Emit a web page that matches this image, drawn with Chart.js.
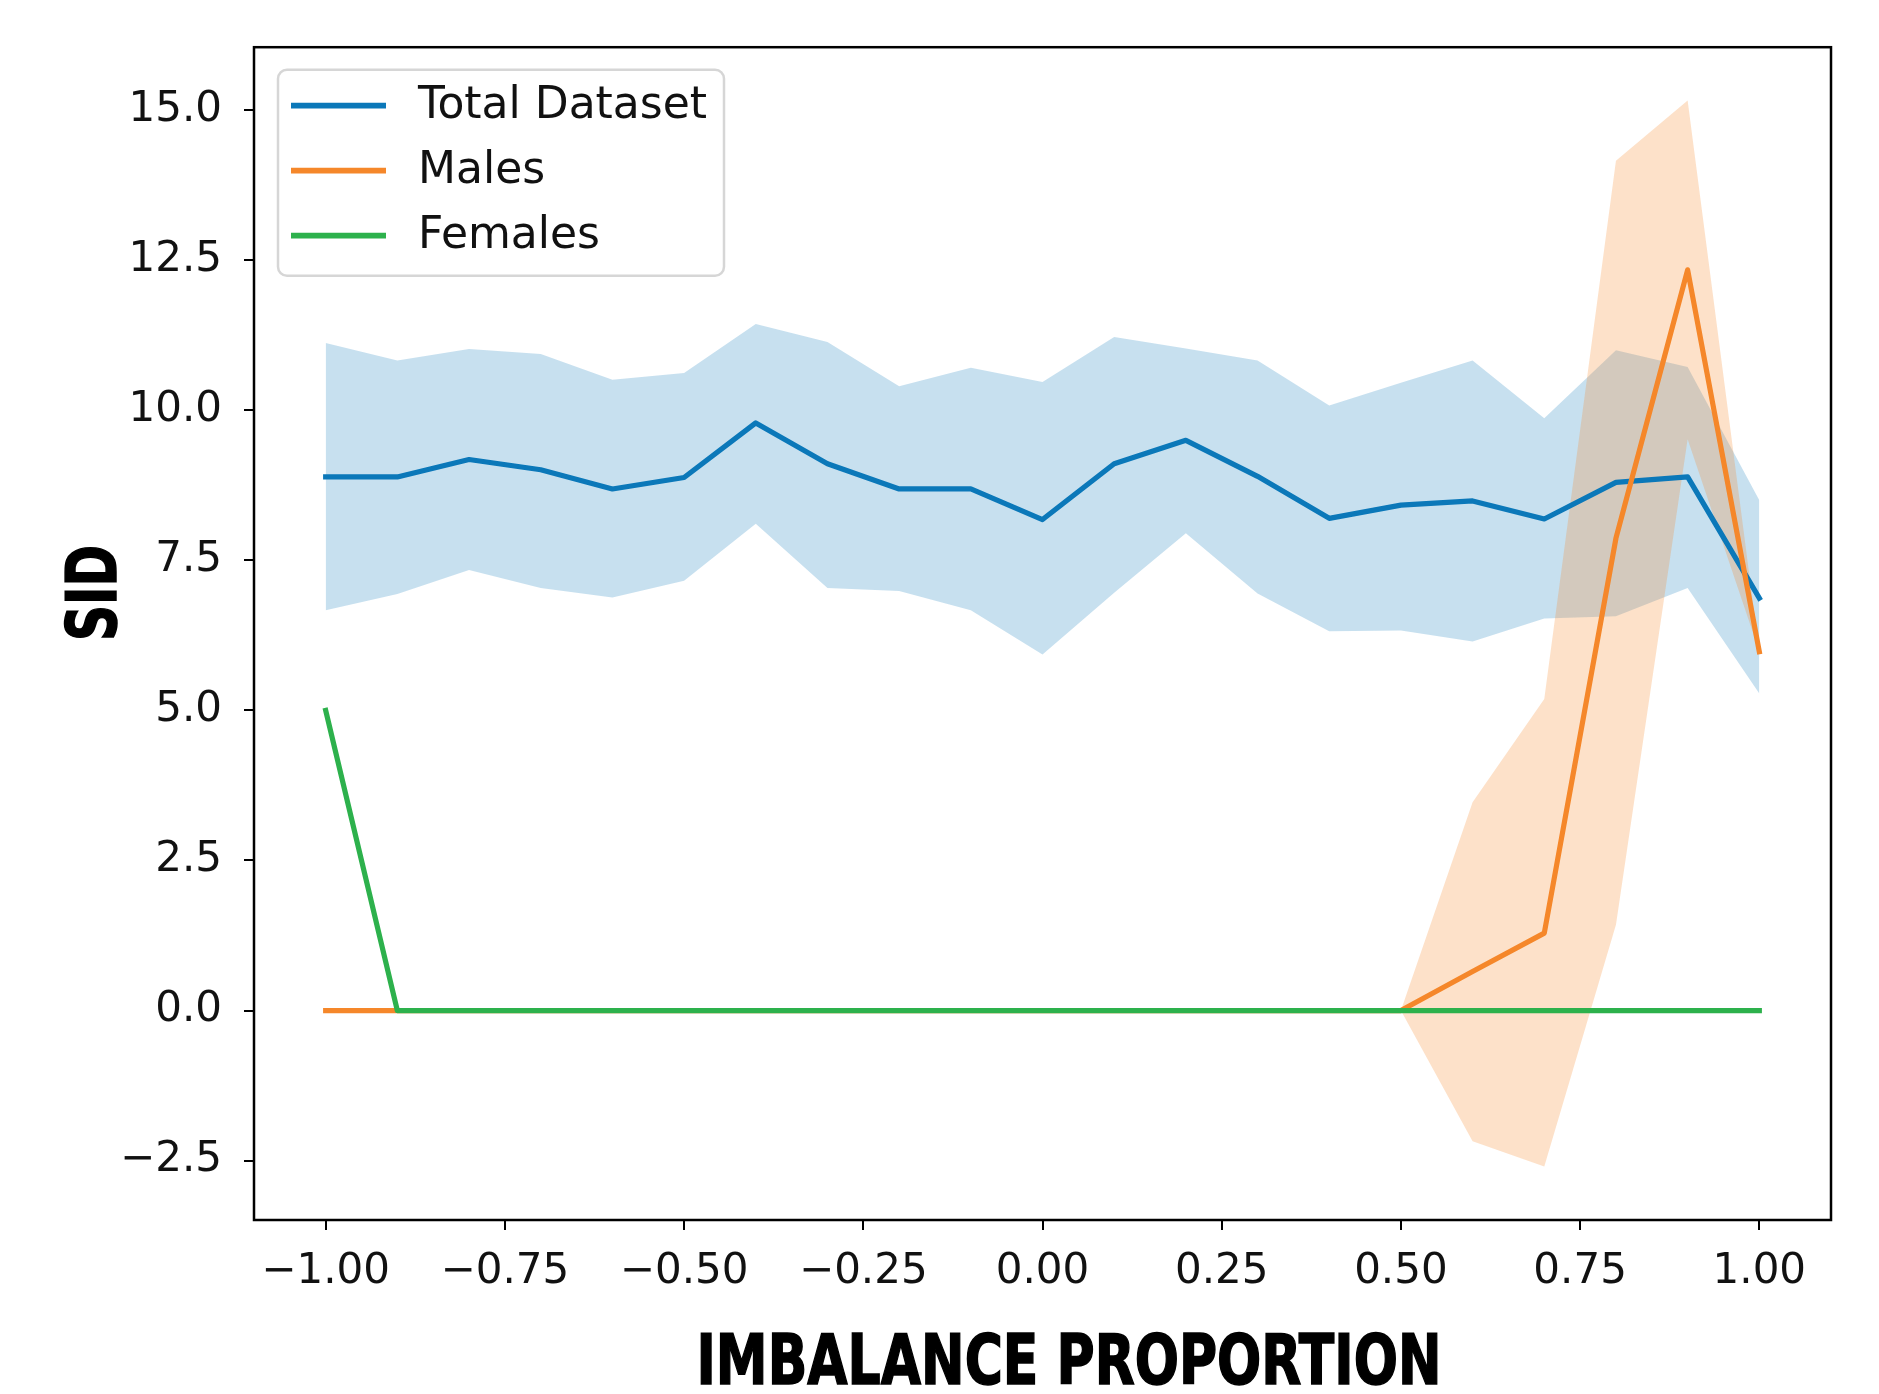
<!DOCTYPE html>
<html>
<head>
<meta charset="utf-8">
<script src="https://cdn.jsdelivr.net/npm/chart.js@4.4.0/dist/chart.umd.min.js"></script>
<style>
  html, body { margin: 0; padding: 0; background: #ffffff; }
  canvas { display: block; }
</style>
</head>
<body>
<canvas id="c" width="1879" height="1394" style="width:1879px;height:1394px"></canvas>
<script>
// ---------------- data ----------------
const xValues = [-1.0, -0.9, -0.8, -0.7, -0.6, -0.5, -0.4, -0.3, -0.2, -0.1, 0.0,
                 0.1, 0.2, 0.3, 0.4, 0.5, 0.6, 0.7, 0.8, 0.9, 1.0];

const totalMean  = [8.89, 8.89, 9.18, 9.01, 8.69, 8.88, 9.79, 9.11, 8.69, 8.69, 8.18,
                    9.11, 9.50, 8.90, 8.20, 8.42, 8.49, 8.19, 8.80, 8.89, 6.87];
const totalUpper = [11.12, 10.83, 11.02, 10.94, 10.51, 10.62, 11.44, 11.14, 10.40, 10.71, 10.47,
                    11.22, 11.03, 10.83, 10.08, 10.46, 10.83, 9.87, 11.00, 10.72, 8.50];
const totalLower = [6.67, 6.94, 7.34, 7.04, 6.88, 7.16, 8.11, 7.04, 6.99, 6.67, 5.93,
                    6.96, 7.95, 6.95, 6.32, 6.33, 6.15, 6.53, 6.57, 7.04, 5.28];

const malesMean  = [0, 0, 0, 0, 0, 0, 0, 0, 0, 0, 0,
                    0, 0, 0, 0, 0, 0.65, 1.29, 7.87, 12.34, 5.98];
const malesUpper = [0, 0, 0, 0, 0, 0, 0, 0, 0, 0, 0,
                    0, 0, 0, 0, 0, 3.47, 5.19, 14.16, 15.16, 5.98];
const malesLower = [0, 0, 0, 0, 0, 0, 0, 0, 0, 0, 0,
                    0, 0, 0, 0, 0, -2.18, -2.60, 1.43, 9.52, 5.98];

const femalesMean = [5.0, 0, 0, 0, 0, 0, 0, 0, 0, 0, 0,
                     0, 0, 0, 0, 0, 0, 0, 0, 0, 0];

const seriesNames = ['Total Dataset', 'Males', 'Females'];

const xTickValues = [-1.0, -0.75, -0.5, -0.25, 0.0, 0.25, 0.5, 0.75, 1.0];
const xTickLabels = ['\u22121.00', '\u22120.75', '\u22120.50', '\u22120.25', '0.00', '0.25', '0.50', '0.75', '1.00'];
const yTickValues = [-2.5, 0.0, 2.5, 5.0, 7.5, 10.0, 12.5, 15.0];
const yTickLabels = ['\u22122.5', '0.0', '2.5', '5.0', '7.5', '10.0', '12.5', '15.0'];

const xTitle = 'IMBALANCE PROPORTION';
const yTitle = 'SID';

// ---------------- styles ----------------
const BLUE = '#0b78b9';
const ORANGE = '#f5872a';
const GREEN = '#2db14c';
const BLUE_BAND = 'rgba(100,170,210,0.36)';
const ORANGE_BAND = 'rgba(247,134,38,0.25)';
const TICK_FONT = { family: '"DejaVu Sans", sans-serif', size: 42 };

const pts = (arr) => arr.map((v, i) => ({ x: xValues[i], y: v }));

function lineDs(label, data, color, order) {
  return {
    label, data: pts(data), borderColor: color, backgroundColor: color,
    borderWidth: 5.2, pointRadius: 0, pointHoverRadius: 0, tension: 0,
    fill: false, order, borderJoinStyle: 'round', borderCapStyle: 'square'
  };
}
function bandDs(label, data, fillColor, fillTarget, order) {
  return {
    label, data: pts(data), borderWidth: 0, borderColor: 'rgba(0,0,0,0)',
    backgroundColor: fillColor, pointRadius: 0, pointHoverRadius: 0, tension: 0,
    fill: fillTarget, order, isBand: true
  };
}

// ---------------- plugins ----------------
const framePlugin = {
  id: 'frame',
  afterDatasetsDraw(chart) {
    const { ctx, chartArea: a } = chart;
    ctx.save();
    ctx.strokeStyle = '#000';
    ctx.lineWidth = 2.5;
    ctx.strokeRect(a.left, a.top, a.right - a.left, a.bottom - a.top);
    ctx.restore();
  }
};

const legendPlugin = {
  id: 'mplLegend',
  afterDraw(chart) {
    const { ctx, chartArea: a } = chart;
    const bx = a.left + 24, by = a.top + 22.5, bw = 446, bh = 206, r = 9;
    ctx.save();
    ctx.beginPath();
    ctx.moveTo(bx + r, by);
    ctx.arcTo(bx + bw, by, bx + bw, by + bh, r);
    ctx.arcTo(bx + bw, by + bh, bx, by + bh, r);
    ctx.arcTo(bx, by + bh, bx, by, r);
    ctx.arcTo(bx, by, bx + bw, by, r);
    ctx.closePath();
    ctx.fillStyle = 'rgba(255,255,255,0.85)';
    ctx.fill();
    ctx.strokeStyle = '#d6d6d6';
    ctx.lineWidth = 2.5;
    ctx.stroke();

    const lines = chart.data.datasets.filter(d => !d.isBand);
    lines.forEach((d, k) => {
      const cy = a.top + 58.5 + 65 * k;
      ctx.beginPath();
      ctx.strokeStyle = d.borderColor;
      ctx.lineWidth = 5.8;
      ctx.moveTo(a.left + 37, cy);
      ctx.lineTo(a.left + 132, cy);
      ctx.stroke();
      ctx.fillStyle = '#111';
      ctx.font = '44px "DejaVu Sans", sans-serif';
      ctx.textAlign = 'left';
      ctx.textBaseline = 'middle';
      ctx.fillText(d.label, a.left + 164, cy + 1);
    });
    ctx.restore();
  }
};

function drawFitted(ctx, text, x, y, targetW) {
  ctx.font = 'bold 70px "Liberation Sans Narrow", "DejaVu Sans Condensed", "Liberation Sans", sans-serif';
  const w = ctx.measureText(text).width;
  const s = targetW / w;
  ctx.save();
  ctx.translate(x, y);
  ctx.scale(s, 1);
  ctx.textAlign = 'center';
  ctx.textBaseline = 'alphabetic';
  ctx.fillStyle = '#000';
  ctx.strokeStyle = '#000';
  ctx.lineWidth = 1.5;
  ctx.fillText(text, 0, 0);
  ctx.strokeText(text, 0, 0);
  ctx.restore();
}

const titlePlugin = {
  id: 'axisTitles',
  afterDraw(chart) {
    const { ctx } = chart;
    ctx.save();
    drawFitted(ctx, xTitle, 1069, 1384, 745);
    ctx.translate(116, 593);
    ctx.rotate(-Math.PI / 2);
    drawFitted(ctx, yTitle, 0, 0, 96);
    ctx.restore();
  }
};

// ---------------- chart ----------------
new Chart(document.getElementById('c'), {
  type: 'line',
  data: {
    datasets: [
      lineDs(seriesNames[0], totalMean, BLUE, 2),
      lineDs(seriesNames[1], malesMean, ORANGE, 1),
      lineDs(seriesNames[2], femalesMean, GREEN, 0),
      bandDs('Total band', totalUpper, BLUE_BAND, '+1', 4),
      bandDs('Total band low', totalLower, 'rgba(0,0,0,0)', false, 4),
      bandDs('Males band', malesUpper, ORANGE_BAND, '+1', 3),
      bandDs('Males band low', malesLower, 'rgba(0,0,0,0)', false, 3)
    ]
  },
  options: {
    responsive: false,
    devicePixelRatio: 1,
    animation: false,
    layout: { padding: { left: 0, right: 48, top: 45.5, bottom: 0 }, autoPadding: false },
    plugins: { legend: { display: false }, tooltip: { enabled: false }, title: { display: false } },
    scales: {
      x: {
        type: 'linear', min: -1.1, max: 1.1,
        afterBuildTicks: (s) => { s.ticks = xTickValues.map(v => ({ value: v })); },
        afterFit: (s) => { s.height = 174; },
        grid: { display: true, drawOnChartArea: false, drawTicks: true, tickLength: 10, color: '#000', lineWidth: 2 },
        border: { display: false },
        ticks: { font: TICK_FONT, color: '#111', padding: 17, maxRotation: 0, autoSkip: false,
                 callback: (v, i) => xTickLabels[i] }
      },
      y: {
        type: 'linear', min: -3.49, max: 16.05,
        afterBuildTicks: (s) => { s.ticks = yTickValues.map(v => ({ value: v })); },
        afterFit: (s) => { s.width = 254; },
        grid: { display: true, drawOnChartArea: false, drawTicks: true, tickLength: 10, color: '#000', lineWidth: 2 },
        border: { display: false },
        ticks: { font: TICK_FONT, color: '#111', padding: 22, autoSkip: false,
                 callback: (v, i) => yTickLabels[i] }
      }
    }
  },
  plugins: [framePlugin, legendPlugin, titlePlugin]
});
</script>
</body>
</html>
